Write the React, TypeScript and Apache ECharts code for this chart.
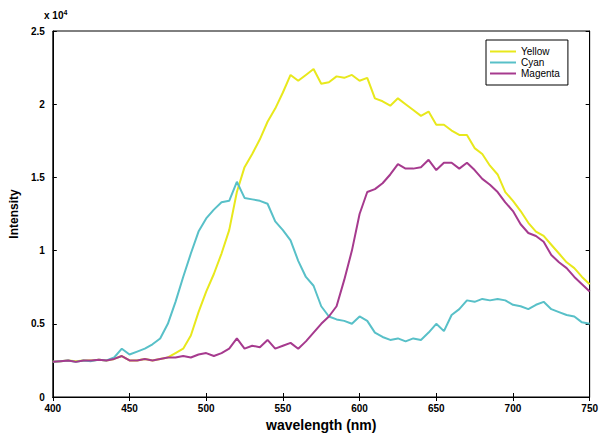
import React, { useEffect, useRef } from "react";
import * as echarts from "echarts";

const wavelengths = [
  400, 405, 410, 415, 420, 425, 430, 435, 440, 445, 450, 455, 460, 465, 470, 475,
  480, 485, 490, 495, 500, 505, 510, 515, 520, 525, 530, 535, 540, 545, 550, 555,
  560, 565, 570, 575, 580, 585, 590, 595, 600, 605, 610, 615, 620, 625, 630, 635,
  640, 645, 650, 655, 660, 665, 670, 675, 680, 685, 690, 695, 700, 705, 710, 715,
  720, 725, 730, 735, 740, 745, 750,
];

// intensity in units of 1e4
const yellow = [
  0.24, 0.245, 0.25, 0.245, 0.25, 0.25, 0.255, 0.25, 0.26, 0.28, 0.25, 0.25, 0.26, 0.25, 0.26, 0.27,
  0.3, 0.33, 0.42, 0.58, 0.72, 0.84, 0.98, 1.14, 1.4, 1.57, 1.66, 1.76, 1.88, 1.97, 2.08, 2.2,
  2.16, 2.2, 2.24, 2.14, 2.15, 2.19, 2.18, 2.2, 2.16, 2.18, 2.04, 2.02, 1.99, 2.04, 2.0, 1.96,
  1.92, 1.95, 1.86, 1.86, 1.82, 1.79, 1.79, 1.7, 1.66, 1.58, 1.52, 1.4, 1.34, 1.27, 1.19, 1.13,
  1.1, 1.04, 0.98, 0.92, 0.88, 0.82, 0.77,
];

const cyan = [
  0.24, 0.245, 0.25, 0.24, 0.25, 0.245, 0.255, 0.25, 0.27, 0.33, 0.29, 0.31, 0.33, 0.36, 0.4, 0.5,
  0.65, 0.82, 0.98, 1.13, 1.22, 1.28, 1.33, 1.34, 1.47, 1.36, 1.35, 1.34, 1.32, 1.2, 1.14, 1.07,
  0.93, 0.82, 0.76, 0.62, 0.55, 0.53, 0.52, 0.5, 0.55, 0.52, 0.44, 0.41, 0.39, 0.4, 0.38, 0.4,
  0.39, 0.44, 0.5, 0.45, 0.56, 0.6, 0.66, 0.65, 0.67, 0.66, 0.67, 0.66, 0.63, 0.62, 0.6, 0.63,
  0.65, 0.6, 0.58, 0.56, 0.55, 0.51, 0.5,
];

const magenta = [
  0.24, 0.245, 0.25, 0.24, 0.25, 0.25, 0.255, 0.25, 0.26, 0.28, 0.25, 0.25, 0.26, 0.25, 0.26, 0.27,
  0.27, 0.28, 0.27, 0.29, 0.3, 0.28, 0.3, 0.33, 0.4, 0.33, 0.35, 0.34, 0.39, 0.33, 0.35, 0.37,
  0.33, 0.38, 0.44, 0.5, 0.55, 0.62, 0.8, 1.0, 1.25, 1.4, 1.42, 1.46, 1.52, 1.59, 1.56, 1.56,
  1.57, 1.62, 1.55, 1.6, 1.6, 1.56, 1.6, 1.55, 1.49, 1.45, 1.4, 1.33, 1.27, 1.18, 1.12, 1.1,
  1.06, 0.97, 0.92, 0.88, 0.82, 0.77, 0.72,
];

const seriesNames = ["Yellow", "Cyan", "Magenta"];
const seriesColors = ["#e8e81c", "#58c0c8", "#a63a8e"];
const seriesData = [yellow, cyan, magenta];

const FONT = "Liberation Sans";

export default function App() {
  const ref = useRef<HTMLDivElement>(null);
  useEffect(() => {
    if (!ref.current) return;
    const chart = echarts.init(ref.current, undefined, { renderer: "svg" });
    const axisLabel = { color: "#000", fontFamily: FONT, fontSize: 10, fontWeight: "bold" as const };
    chart.setOption({
      animation: false,
      backgroundColor: "#fff",
      grid: {
        left: 50, right: 11, top: 31, bottom: 37,
        show: true, borderColor: "#000", borderWidth: 1,
      },
      legend: {
        orient: "vertical",
        left: 486, top: 40,
        data: seriesNames,
        itemWidth: 26, itemHeight: 2, itemGap: 0,
        icon: "rect",
        borderColor: "#000", borderWidth: 1, padding: [6, 8, 6, 4],
        backgroundColor: "#fff",
        textStyle: { fontFamily: FONT, fontSize: 10, color: "#000", lineHeight: 11 },
      },
      xAxis: [
        {
          type: "value", min: 400, max: 750, interval: 50,
          name: "wavelength (nm)", nameLocation: "middle", nameGap: 21,
          nameTextStyle: { fontFamily: FONT, fontSize: 14, fontWeight: "bold", color: "#000" },
          axisLine: { lineStyle: { color: "#000" } },
          axisTick: { inside: true, length: 4, lineStyle: { color: "#000" } },
          axisLabel: { ...axisLabel, margin: 6 },
          splitLine: { show: false },
        },
        {
          type: "value", min: 400, max: 750, interval: 50, position: "top",
          axisLine: { lineStyle: { color: "#000" } },
          axisTick: { inside: true, length: 4, lineStyle: { color: "#000" } },
          axisLabel: { show: false }, splitLine: { show: false },
        },
      ],
      yAxis: [
        {
          type: "value", min: 0, max: 2.5, interval: 0.5,
          name: "Intensity", nameLocation: "middle", nameGap: 30, nameRotate: 90,
          nameTextStyle: { fontFamily: FONT, fontSize: 12, fontWeight: "bold", color: "#000" },
          axisLine: { lineStyle: { color: "#000" } },
          axisTick: { inside: true, length: 4, lineStyle: { color: "#000" } },
          axisLabel: { ...axisLabel, margin: 8 },
          splitLine: { show: false },
        },
        {
          type: "value", min: 0, max: 2.5, interval: 0.5, position: "right",
          axisLine: { lineStyle: { color: "#000" } },
          axisTick: { inside: true, length: 4, lineStyle: { color: "#000" } },
          axisLabel: { show: false }, splitLine: { show: false },
        },
      ],
      graphic: [
        {
          type: "text", left: 44, top: 9,
          style: {
            text: "x 10{s|4}",
            rich: { s: { fontSize: 7, fontFamily: FONT, fontWeight: "bold", verticalAlign: "top", padding: [0, 0, 6, 0] } },
            fontFamily: FONT, fontSize: 10, fontWeight: "bold", fill: "#000",
          },
        },
      ],
      series: seriesNames.map((name, i) => ({
        name,
        type: "line",
        data: wavelengths.map((w, j) => [w, seriesData[i][j]]),
        showSymbol: false,
        symbol: "none",
        lineStyle: { color: seriesColors[i], width: 2 },
        itemStyle: { color: seriesColors[i] },
        z: 2 + i,
      })),
    });
    return () => chart.dispose();
  }, []);
  return <div ref={ref} style={{ width: 601, height: 437, position: "absolute", left: 0, top: 0 }} />;
}
